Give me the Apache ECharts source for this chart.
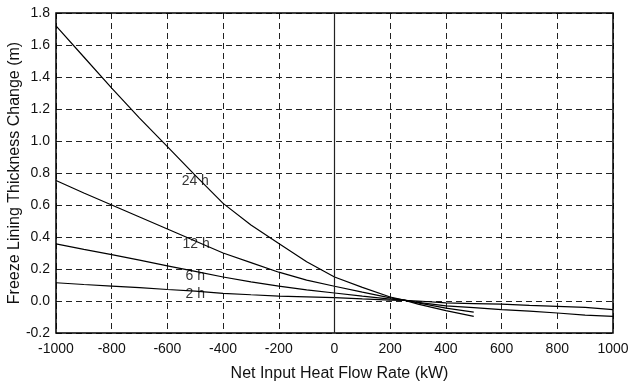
<!DOCTYPE html>
<html>
<head>
<meta charset="utf-8">
<script src="https://cdn.jsdelivr.net/npm/echarts@6/dist/echarts.min.js"></script>
<style>html,body{margin:0;padding:0;background:#fff;}#c{width:634px;height:386px;}</style>
</head>
<body>
<div id="c"></div>
<script>
// Data (x in kW, y in m)
var xLong = [-1000, -900, -800, -700, -600, -500, -400, -300, -200, -100, 0, 100, 200, 250, 300, 400, 500, 600, 700, 800, 900, 1000];
var xShort = [-1000, -900, -800, -700, -600, -500, -400, -300, -200, -100, 0, 100, 200, 250, 300, 400, 500];
var y2h = [0.114, 0.103, 0.093, 0.083, 0.072, 0.062, 0.048, 0.039, 0.031, 0.026, 0.021, 0.013, 0.006, 0.004, 0.000, -0.012, -0.016, -0.020, -0.027, -0.033, -0.040, -0.054];
var y6h = [0.357, 0.323, 0.290, 0.255, 0.220, 0.185, 0.150, 0.120, 0.093, 0.070, 0.050, 0.030, 0.012, 0.005, -0.008, -0.030, -0.042, -0.054, -0.063, -0.075, -0.088, -0.096];
var y12h = [0.753, 0.675, 0.600, 0.525, 0.450, 0.375, 0.300, 0.240, 0.180, 0.130, 0.092, 0.055, 0.020, 0.005, -0.012, -0.045, -0.069];
var y24h = [1.72, 1.525, 1.33, 1.143, 0.965, 0.785, 0.61, 0.475, 0.36, 0.245, 0.150, 0.085, 0.025, 0.005, -0.020, -0.060, -0.096];
var labelText = ['24 h', '12 h', '6 h', '2 h'];
var labelX = [-500, -497, -500, -500];
var labelY = [0.748, 0.353, 0.156, 0.042];
var xTicks = {min: -1000, max: 1000, interval: 200};
var yTicks = {min: -0.2, max: 1.8, interval: 0.2};

function pairs(xs, ys) { return ys.map(function (v, i) { return [xs[i], v]; }); }
var font = 'Liberation Sans, Arial, Helvetica, sans-serif';
var lineStyle = {color: '#000', width: 1.2};
function lineSeries(name, xs, ys) {
  return {name: name, type: 'line', data: pairs(xs, ys), showSymbol: false, symbol: 'none',
    lineStyle: lineStyle, itemStyle: {color: '#000'}, silent: true, z: 3};
}
var chart = echarts.init(document.getElementById('c'), null, {renderer: 'canvas'});
var series = [
  lineSeries('2 h', xLong, y2h),
  lineSeries('6 h', xLong, y6h),
  lineSeries('12 h', xShort, y12h),
  lineSeries('24 h', xShort, y24h),
  {type: 'scatter', symbolSize: 0, silent: true, z: 5,
   data: labelText.map(function (t, i) { return {value: [labelX[i], labelY[i]], name: t}; }),
   label: {show: true, position: 'inside', formatter: function (p) { return p.name; },
     color: '#000', fontSize: 14, fontFamily: font}},
];
series[0].markLine = {silent: true, symbol: ['none', 'none'], label: {show: false},
  lineStyle: {color: '#222', type: 'solid', width: 1.2}, data: [{xAxis: 0}]};
chart.setOption({
  animation: false,
  backgroundColor: '#fff',
  grid: {left: 56, right: 21, top: 13, bottom: 53, show: true, borderColor: '#000', borderWidth: 1.5, z: 4,
    containLabel: false, outerBoundsMode: 'none'},
  xAxis: {type: 'value', min: xTicks.min, max: xTicks.max, interval: xTicks.interval,
    name: 'Net Input Heat Flow Rate (kW)', nameLocation: 'middle', nameGap: 33, nameMoveOverlap: false,
    nameTextStyle: {fontSize: 16, color: '#111', fontFamily: font, padding: [0, 0, 0, 10]},
    axisLine: {show: false}, axisTick: {show: false},
    axisLabel: {fontSize: 14, color: '#111', fontFamily: font, margin: 9,
      formatter: function (v) { return String(v); }},
    splitLine: {show: true, lineStyle: {color: '#222', type: [6, 4], width: 1}}},
  yAxis: {type: 'value', min: yTicks.min, max: yTicks.max, interval: yTicks.interval,
    name: 'Freeze Lining Thickness Change (m)', nameLocation: 'middle', nameGap: 33, nameRotate: 90,
    nameMoveOverlap: false,
    nameTextStyle: {fontSize: 16, color: '#111', fontFamily: font},
    axisLine: {show: false}, axisTick: {show: false},
    axisLabel: {fontSize: 14, color: '#111', fontFamily: font, margin: 6,
      formatter: function (v) { return v.toFixed(1); }},
    splitLine: {show: true, lineStyle: {color: '#222', type: [6, 4], width: 1}}},
  series: series
});
</script>
</body>
</html>
